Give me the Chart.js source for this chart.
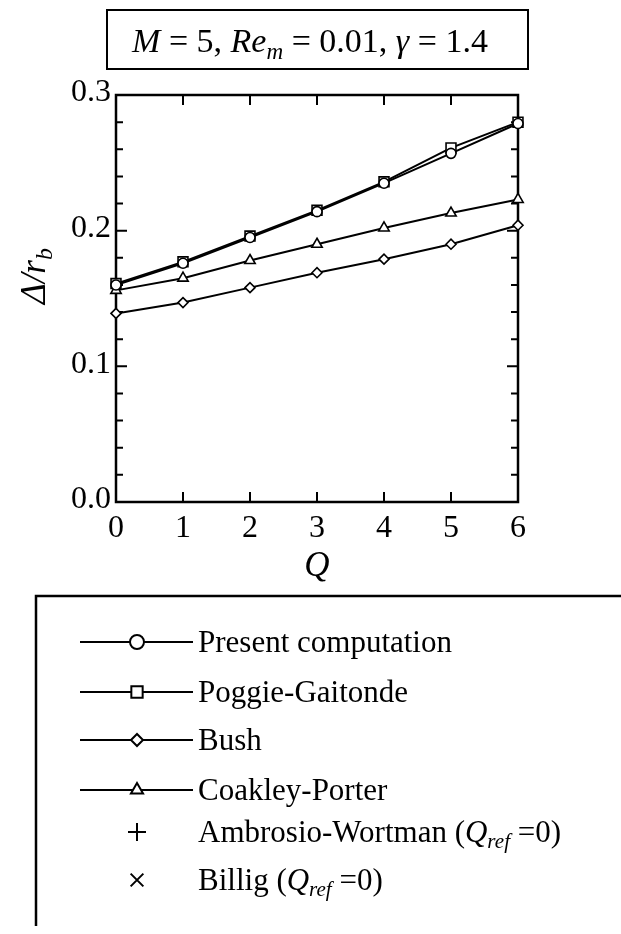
<!DOCTYPE html>
<html>
<head>
<meta charset="utf-8">
<script src="https://cdn.jsdelivr.net/npm/chart.js@4.4.1/dist/chart.umd.min.js"></script>
<style>
  html, body { margin: 0; padding: 0; background: #fff; }
  #wrap { width: 621px; height: 934px; }
</style>
</head>
<body>
<div id="wrap"><canvas id="myChart" width="621" height="934"></canvas></div>
<script>
// values
const qValues = [0, 1, 2, 3, 4, 5, 6];
const present = [0.160, 0.176, 0.195, 0.214, 0.235, 0.257, 0.279];
const poggie = [0.161, 0.177, 0.196, 0.215, 0.236, 0.261, 0.280];
const bush = [0.139, 0.147, 0.158, 0.169, 0.179, 0.190, 0.204];
const coakley = [0.156, 0.165, 0.178, 0.190, 0.202, 0.213, 0.223];
const ambrosio = [];
const billig = [];
const xTickLabels = ['0', '1', '2', '3', '4', '5', '6'];
const yTickLabels = ['0.0', '0.1', '0.2', '0.3'];

const SERIF = '"Liberation Serif", "DejaVu Serif", serif';

function pts(ys){
    return ys.map(function(y, i){ return {x: qValues[i], y: y}; });
}

function series(label, ys, style, radius, showLine){
    return {
        label: label,
        data: pts(ys),
        showLine: showLine,
        borderColor: '#000',
        backgroundColor: '#fff',
        borderWidth: 2,
        pointStyle: style,
        pointRadius: radius,
        pointBorderWidth: 1.6,
        pointBackgroundColor: '#fff',
        pointBorderColor: '#000',
        clip: false
    };
}

// draw a run of text pieces: {t, it, sub}
function runText(ctx, parts, x, y, size, align){
    let w = 0;
    parts.forEach(function(p){
        const s = p.sub ? size * 0.68 : size;
        ctx.font = (p.it ? 'italic ' : '') + s + 'px ' + SERIF;
        w += ctx.measureText(p.t).width;
    });
    let cx = align === 'center' ? x - w / 2 : x;
    ctx.textAlign = 'left';
    ctx.textBaseline = 'alphabetic';
    parts.forEach(function(p){
        const s = p.sub ? size * 0.68 : size;
        ctx.font = (p.it ? 'italic ' : '') + s + 'px ' + SERIF;
        ctx.fillText(p.t, cx, y + (p.sub ? size * 0.2 : 0));
        cx += ctx.measureText(p.t).width;
    });
}

const figPlugin = {
    id: 'figPlugin',
    beforeDatasetsDraw(chart){
        const ctx = chart.ctx;
        const a = chart.chartArea;
        const xs = chart.scales.x, ys = chart.scales.y;
        ctx.save();
        ctx.strokeStyle = '#000';
        ctx.fillStyle = '#000';
        ctx.lineWidth = 2.5;
        ctx.strokeRect(a.left, a.top, a.right - a.left, a.bottom - a.top);

        // inward ticks
        ctx.lineWidth = 2;
        xs.ticks.forEach(function(t){
            const px = xs.getPixelForValue(t.value);
            ctx.beginPath();
            ctx.moveTo(px, a.bottom); ctx.lineTo(px, a.bottom - 10);
            ctx.moveTo(px, a.top); ctx.lineTo(px, a.top + 10);
            ctx.stroke();
        });
        ys.ticks.forEach(function(t){
            const py = ys.getPixelForValue(t.value);
            const major = Math.abs(t.value * 10 - Math.round(t.value * 10)) < 1e-6;
            const len = major ? 11 : 7;
            ctx.beginPath();
            ctx.moveTo(a.left, py); ctx.lineTo(a.left + len, py);
            ctx.moveTo(a.right, py); ctx.lineTo(a.right - len, py);
            ctx.stroke();
        });

        // tick labels
        ctx.font = '32px ' + SERIF;
        ctx.textAlign = 'center';
        ctx.textBaseline = 'middle';
        xTickLabels.forEach(function(lab){
            ctx.fillText(lab, xs.getPixelForValue(Number(lab)), a.bottom + 27);
        });
        ctx.textAlign = 'right';
        yTickLabels.forEach(function(lab){
            ctx.fillText(lab, a.left - 5, ys.getPixelForValue(Number(lab)) - 2);
        });

        // axis titles
        runText(ctx, [{t: 'Q', it: true}], (a.left + a.right) / 2, 576, 35, 'center');
        ctx.save();
        ctx.translate(45, 276);
        ctx.rotate(-Math.PI / 2);
        runText(ctx, [{t: 'Δ/', it: true}, {t: 'r', it: true}, {t: 'b', it: true, sub: true}], 0, 0, 35, 'center');
        ctx.restore();

        // title box
        ctx.lineWidth = 2;
        ctx.strokeRect(107, 10, 421, 59);
        runText(ctx, [
            {t: 'M', it: true}, {t: ' = 5, '},
            {t: 'Re', it: true}, {t: 'm', it: true, sub: true}, {t: ' = 0.01, '},
            {t: 'γ', it: true}, {t: ' = 1.4'}
        ], 310, 52, 34, 'center');

        // legend box
        ctx.lineWidth = 2.5;
        ctx.beginPath();
        ctx.moveTo(621, 596); ctx.lineTo(36, 596); ctx.lineTo(36, 926);
        ctx.stroke();
        const rowsY = [642, 692, 740, 790, 832, 880];
        const refPart = [{t: ' ('}, {t: 'Q', it: true}, {t: 'ref', it: true, sub: true}, {t: ' =0)'}];
        const extra = [null, null, null, null, refPart, refPart];
        chart.data.datasets.forEach(function(ds, i){
            const y = rowsY[i];
            ctx.strokeStyle = '#000';
            if (ds.showLine) {
                ctx.lineWidth = 2;
                ctx.beginPath();
                ctx.moveTo(80, y); ctx.lineTo(193, y);
                ctx.stroke();
            }
            ctx.fillStyle = '#fff';
            Chart.helpers.drawPoint(ctx, {
                pointStyle: ds.pointStyle,
                radius: ds.legendRadius,
                rotation: 0,
                borderWidth: 1.8
            }, 137, y);
            ctx.fillStyle = '#000';
            const parts = [{t: ds.label}].concat(extra[i] || []);
            runText(ctx, parts, 198, y + 10, 31, 'left');
        });
        ctx.restore();
    }
};

const datasets = [
    series('Present computation', present, 'circle', 5, true),
    series('Poggie-Gaitonde', poggie, 'rect', 7, true),
    series('Bush', bush, 'rectRot', 5, true),
    series('Coakley-Porter', coakley, 'triangle', 6, true),
    series('Ambrosio-Wortman', ambrosio, 'cross', 8, false),
    series('Billig', billig, 'crossRot', 8, false)
];
const legendRadii = [7, 8, 6, 7, 9, 9];
datasets.forEach(function(d, i){ d.legendRadius = legendRadii[i]; });

new Chart('myChart', {
    type: 'scatter',
    data: { datasets: datasets },
    options: {
        responsive: false,
        animation: false,
        events: [],
        layout: { padding: { left: 116, right: 103, top: 95, bottom: 432 } },
        plugins: {
            legend: { display: false },
            tooltip: { enabled: false }
        },
        scales: {
            x: {
                type: 'linear', min: 0, max: 6,
                ticks: { display: false, stepSize: 1 },
                grid: { display: false, drawTicks: false },
                border: { display: false }
            },
            y: {
                type: 'linear', min: 0, max: 0.3,
                ticks: { display: false, stepSize: 0.02 },
                grid: { display: false, drawTicks: false },
                border: { display: false }
            }
        }
    },
    plugins: [figPlugin]
});
</script>
</body>
</html>
